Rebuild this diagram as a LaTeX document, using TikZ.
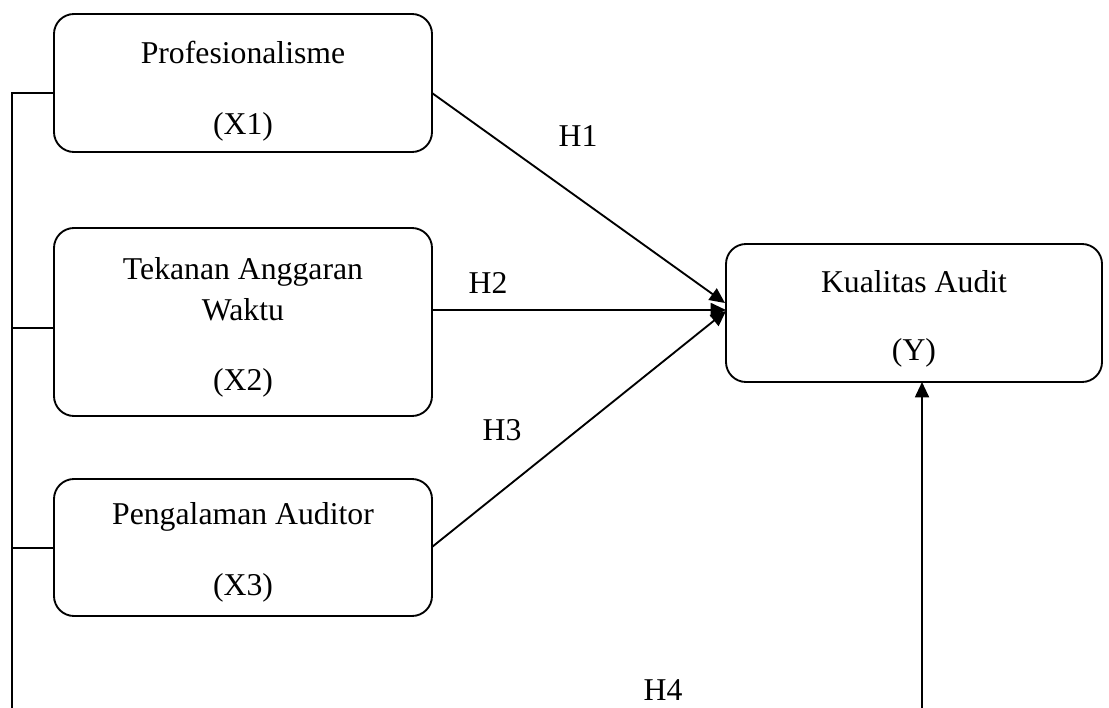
\documentclass[tikz,border=0pt]{standalone}
\usepackage{fontspec}
\setmainfont{Liberation Serif}
\usetikzlibrary{arrows.meta}
\begin{document}
\begin{tikzpicture}[x=0.75pt,y=-0.75pt,
  box/.style={draw, line width=1.4pt, rounded corners=15pt, inner sep=0pt},
  txt/.style={inner sep=0pt, font=\fontsize{23.8}{28}\selectfont},
  conn/.style={line width=1.4pt},
  arr/.style={line width=1.4pt, -{Triangle[length=11.5pt,width=10.5pt]}}]
\useasboundingbox (0,0) rectangle (1109,707);
% boxes
\node[box, minimum width=283.5pt, minimum height=103.5pt] (x1) at (243,83) {};
\node[box, minimum width=283.5pt, minimum height=141pt] (x2) at (243,322) {};
\node[box, minimum width=283.5pt, minimum height=102.75pt] (x3) at (243,547.5) {};
\node[box, minimum width=282pt, minimum height=103.5pt] (y) at (914,313) {};
% texts
\node[txt] (t1a) at (243,52) {Profesionalisme};
\node[txt] (t1b) at (243,127) {(X1)};
\node[txt] (t2a) at (243,272) {Tekanan Anggaran};
\node[txt] (t2b) at (243,310) {Waktu};
\node[txt] (t2c) at (243,383) {(X2)};
\node[txt] (t3a) at (243,517) {Pengalaman Auditor};
\node[txt] (t3b) at (243,588) {(X3)};
\node[txt] (tya) at (914,282) {Kualitas Audit};
\node[txt] (tyb) at (914,353) {(Y)};
\node[txt] (h1) at (578,136) {H1};
\node[txt] (h2) at (488,283) {H2};
\node[txt] (h3) at (502,430) {H3};
\node[txt] (h4) at (663,690) {H4};
% connection points
\coordinate (x1r) at (432,93);
\coordinate (x2r) at (432,310);
\coordinate (x3r) at (432,547);
\coordinate (x1l) at (54,93);
\coordinate (x2l) at (54,328);
\coordinate (x3l) at (54,548);
\coordinate (yin1) at (725,303);
\coordinate (yin2) at (726,310);
\coordinate (yin3) at (726,311);
\coordinate (ybot) at (922,382);
\coordinate (top) at (12,93);
\coordinate (j2) at (12,328);
\coordinate (j3) at (12,548);
\coordinate (bot) at (12,708);
\coordinate (src) at (922,708);
% arrows
\draw[arr] (x1r) -- (yin1);
\draw[arr] (x2r) -- (yin2);
\draw[arr] (x3r) -- (yin3);
\draw[arr] (src) -- (ybot);
% left bracket
\draw[conn] (x1l) -- (top) -- (bot);
\draw[conn] (j2) -- (x2l);
\draw[conn] (j3) -- (x3l);
\end{tikzpicture}
\end{document}
